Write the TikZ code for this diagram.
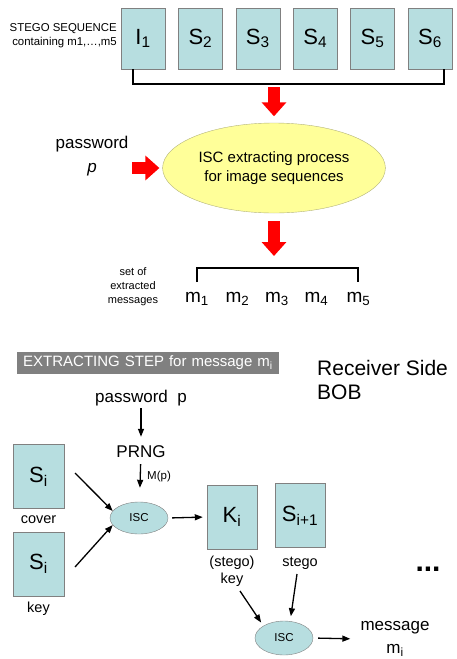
\documentclass[tikz,border=0pt]{standalone}
\usepackage{fontspec}
\setmainfont{Liberation Sans}
\usepackage{tikz}
\usetikzlibrary{positioning}
\usetikzlibrary{arrows.meta,shapes}

\definecolor{boxcyan}{HTML}{B7DEE0}
\definecolor{procyellow}{HTML}{FFFF99}
\definecolor{procline}{HTML}{B2B27A}
\definecolor{bargray}{HTML}{808080}
\newcommand{\fsz}[2]{\fontsize{#1}{#2}\selectfont}

\begin{document}
\begin{tikzpicture}[x=1pt,y=-1pt,
	frame/.style={draw=gray, fill=boxcyan, inner sep=0pt, minimum width=44pt, minimum height=61pt, font=\fsz{22}{22}},
	bigframe/.style={frame, minimum width=51pt, minimum height=64pt},
	iscnode/.style={ellipse, draw=gray, fill=boxcyan, inner sep=0pt, minimum width=58pt, minimum height=32pt, font=\fsz{11.5}{11.5}},
	lbl/.style={inner sep=1pt, font=\fsz{14.5}{17}, align=center},
	brk/.style={draw=black, line width=2pt},
	arr/.style={line width=1.3pt, -{Triangle[length=8pt,width=6pt]}},
	redarr/.style={draw=red, line width=12pt, -{Triangle[length=14pt,width=24pt]}}
	]

	\useasboundingbox (0,0) rectangle (456,659);

	\def\dx{57.4}

	% stego sequence
	\node[anchor=east, align=right, inner sep=0pt, font=\fsz{11.4}{14}] (seqlbl) at (117,36) {STEGO SEQUENCE\\containing m1,…,m5};
	\foreach \i/\a/\b in {0/I/1, 1/S/2, 2/S/3, 3/S/4, 4/S/5, 5/S/6} {
		\node[frame] (s\b) at (143+\i*\dx, 38.5) {\a\textsubscript{\b}};
	}
	\draw[brk] ([xshift=-10pt]s1.south) -- ++(0,15) -| ([xshift=14pt]s6.south);

	% extracting process
	\node[ellipse, draw=procline, fill=procyellow, minimum width=211pt, minimum height=90pt, align=center, font=\fsz{15}{19}] (extract) at (274,168) {ISC extracting process\\for image sequences};
	\node[align=center, inner sep=1pt, font=\fsz{17}{24}] (pw) at (92,156) {password\\\textit{p}};

	\coordinate (r1) at (274,87);
	\coordinate (r2) at (132,168);
	\coordinate (r3) at (274,256);
	\draw[redarr, shorten >=6.5pt] (r1) -- (extract.north);
	\draw[redarr, shorten >=3pt] (r2) -- (extract.west);
	\draw[redarr, shorten <=8pt] (extract.south) -- (r3);

	% extracted messages
	\node[align=center, inner sep=0pt, font=\fsz{11}{14}] (setlbl) at (133,287) {set of\\extracted\\messages};
	\foreach \x [count=\k] in {197,237.5,277,316.5,358.5} {
		\node[anchor=base, inner sep=1pt, font=\fsz{19}{19}] (m\k) at (\x,302) {m\textsubscript{\k}};
	}
	\draw[brk] (197,282) |- (358,268) -- (358,282);

	% extracting step
	\node[anchor=west, fill=bargray, text=white, text width=250pt, inner xsep=6pt, inner ysep=0pt, minimum height=22pt, align=left, font=\fsz{15}{15}] (step) at (17,363) {EXTRACTING STEP for message m\textsubscript{i}};
	\node[anchor=west, align=left, inner sep=0pt, font=\fsz{21}{24}] (recv) at (317,380) {Receiver Side\\BOB};

	\node[inner sep=1pt, font=\fsz{17}{17}] (pw2) at (141,398) {password\ \ p};
	\node[inner sep=1pt, font=\fsz{17}{17}] (prng) at (141,452) {PRNG};
	\node[iscnode] (isc1) at (139,518) {ISC};

	\draw[arr, shorten <=1pt, shorten >=8pt] (pw2) -- (prng);
	\draw[arr, shorten <=5pt, shorten >=14pt] (prng) -- (isc1);
	\node[anchor=west, inner sep=0pt, font=\fsz{11.5}{11.5}] (mp) at (147,477) {M(p)};

	\node[bigframe] (cov) at (38.5,476.5) {S\textsubscript{i}};
	\node[bigframe] (key) at (38.5,564) {S\textsubscript{i}};
	\node[lbl, below=6pt of cov] (covlbl) {cover};
	\node[lbl, below=5pt of key] (keylbl) {key};

	\coordinate (c1) at (75,473);
	\coordinate (c2) at (75,567);
	\draw[arr] (c1) -- (isc1.165);
	\draw[arr] (c2) -- (isc1.195);

	\node[bigframe, minimum width=50pt] (ki) at (232,517) {K\textsubscript{i}};
	\node[bigframe, minimum width=50pt] (si1) at (300,515.5) {S\textsubscript{i+1}};
	\node[lbl, below=6pt of ki] (kilbl) {(stego)\\key};
	\node[lbl, below=8pt of si1] (si1lbl) {stego};
	\node[inner sep=0pt, font=\fsz{30}{30}\bfseries] (dots) at (428,569) {...};

	\draw[arr, shorten <=4pt, shorten >=4pt] (isc1.east) -- (ki.west);

	\node[iscnode, minimum height=34pt] (isc2) at (284,638) {ISC};
	\node[lbl, font=\fsz{17}{23}] (msgout) at (395,639) {message\\m\textsubscript{i}};

	\coordinate (k1) at (240,591);
	\coordinate (k2) at (297,574);
	\draw[arr, shorten >=4pt] (k1) -- (isc2.north west);
	\draw[arr, shorten >=5pt] (k2) -- (isc2.70);
	\draw[arr, shorten <=5pt, shorten >=9pt] (isc2.east) -- (msgout.west);

\end{tikzpicture}
\end{document}
